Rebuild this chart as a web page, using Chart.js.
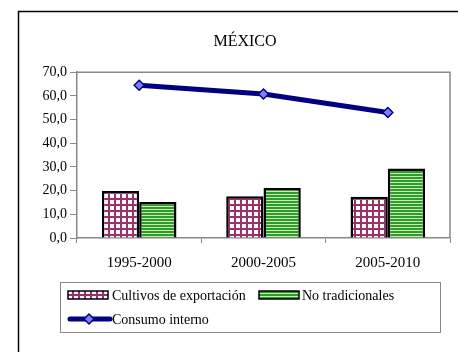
<!DOCTYPE html>
<html>
<head>
<meta charset="utf-8">
<script src="https://cdn.jsdelivr.net/npm/chart.js@4/dist/chart.umd.min.js"></script>
<style>
html,body{margin:0;padding:0;background:#fff;}
#wrap{width:458px;height:352px;}
</style>
</head>
<body>
<div id="wrap"><canvas id="c" width="458" height="352"></canvas></div>
<script>
const title = 'MÉXICO';
const categories = ['1995-2000', '2000-2005', '2005-2010'];
const seriesNames = ['Cultivos de exportación', 'No tradicionales', 'Consumo interno'];
const cultivos = [19.8, 17.6, 17.4];
const noTradicionales = [15.2, 21.1, 29.3];
const consumoInterno = [64.5, 60.8, 53.0];
const yTicks = [0, 10, 20, 30, 40, 50, 60, 70];

const FONT = "'Liberation Serif', 'Times New Roman', serif";

function makePattern(w, h, drawFn) {
  const c = document.createElement('canvas');
  c.width = w; c.height = h;
  const x = c.getContext('2d');
  drawFn(x);
  return x.createPattern(c, 'repeat');
}
const pinkPattern = makePattern(6, 6, x => {
  x.fillStyle = '#fff8fc'; x.fillRect(0, 0, 6, 6);
  x.fillStyle = '#993366';
  x.fillRect(0, 0, 6, 2);
  x.fillRect(0, 0, 2, 6);
});
const greenPattern = makePattern(3, 3, x => {
  x.fillStyle = '#2f9a2f'; x.fillRect(0, 0, 3, 3);
  x.fillStyle = '#c4f0a8'; x.fillRect(0, 2, 3, 1);
});

const framePlugin = {
  id: 'frame',
  beforeDraw(chart) {
    const c = chart.ctx;
    c.save();
    c.fillStyle = '#fff';
    c.fillRect(0, 0, chart.width, chart.height);
    c.strokeStyle = '#000';
    c.lineWidth = 1.5;
    c.strokeRect(18.5, 11.5, 480, 380);
    c.restore();
  },
  beforeDatasetsDraw(chart) {
    const a = chart.chartArea;
    const c = chart.ctx;
    c.save();
    c.strokeStyle = '#888';
    c.lineWidth = 1.5;
    c.beginPath();
    c.moveTo(a.left, a.top);
    c.lineTo(a.right, a.top);
    c.lineTo(a.right, a.bottom);
    c.stroke();
    c.restore();
  },
  afterDraw(chart) {
    const c = chart.ctx;
    c.save();
    c.strokeStyle = '#888';
    c.lineWidth = 1;
    c.strokeRect(60.5, 282.5, 380, 50);
    c.font = '14px ' + FONT;
    c.fillStyle = '#000';
    c.textBaseline = 'middle';
    c.fillStyle = pinkPattern;
    c.fillRect(68, 291, 40, 8);
    c.strokeStyle = '#000'; c.lineWidth = 1.5;
    c.strokeRect(68, 291, 40, 8);
    c.fillStyle = '#000';
    c.fillText(seriesNames[0], 112, 296);
    c.fillStyle = greenPattern;
    c.fillRect(259, 291, 40, 8);
    c.strokeRect(259, 291, 40, 8);
    c.fillStyle = '#000';
    c.fillText(seriesNames[1], 302, 296);
    c.strokeStyle = '#000080';
    c.lineWidth = 5;
    c.lineCap = 'round';
    c.beginPath(); c.moveTo(70, 319); c.lineTo(110, 319); c.stroke();
    c.fillStyle = '#8080ff';
    c.strokeStyle = '#000080';
    c.lineWidth = 1.5;
    c.beginPath();
    c.moveTo(89, 314); c.lineTo(94, 319); c.lineTo(89, 324); c.lineTo(84, 319); c.closePath();
    c.fill(); c.stroke();
    c.fillStyle = '#000';
    c.fillText(seriesNames[2], 112, 320);
    c.restore();
  }
};

new Chart(document.getElementById('c'), {
  data: {
    labels: categories,
    datasets: [
      {
        type: 'line', label: seriesNames[2], data: consumoInterno, order: 0,
        borderColor: '#000080', borderWidth: 5, tension: 0,
        pointStyle: 'rectRot', pointRadius: 5, pointBackgroundColor: '#8080ff',
        pointBorderColor: '#000080', pointBorderWidth: 1.5
      },
      {
        type: 'bar', label: seriesNames[0], data: cultivos, order: 1,
        backgroundColor: pinkPattern, borderColor: '#000', borderWidth: 2.5,
        categoryPercentage: 0.6, barPercentage: 1.0
      },
      {
        type: 'bar', label: seriesNames[1], data: noTradicionales, order: 1,
        backgroundColor: greenPattern, borderColor: '#000', borderWidth: 2.5,
        categoryPercentage: 0.6, barPercentage: 1.0
      }
    ]
  },
  options: {
    responsive: false,
    animation: false,
    layout: { padding: { left: 40, right: 8, top: 0, bottom: 80 } },
    plugins: {
      legend: { display: false },
      tooltip: { enabled: false },
      title: {
        display: true, text: title, color: '#000',
        font: { family: FONT, size: 16, weight: 'normal' },
        padding: { top: 32, bottom: 21 }
      }
    },
    scales: {
      x: {
        offset: true,
        grid: { offset: true, drawOnChartArea: false, drawTicks: true, tickLength: 5, color: '#888' },
        border: { color: '#888', width: 1.5 },
        ticks: { color: '#000', font: { family: FONT, size: 15 }, padding: 11 },
        afterFit(s) { s.height = 34; }
      },
      y: {
        min: 0, max: 70,
        afterBuildTicks(s) { s.ticks = yTicks.map(v => ({ value: v })); },
        grid: { drawOnChartArea: false, drawTicks: true, tickLength: 7, color: '#888' },
        border: { color: '#888', width: 1.5 },
        ticks: {
          color: '#000', font: { family: FONT, size: 14 }, padding: 3,
          callback: v => Number(v).toFixed(1).replace('.', ',')
        },
        afterFit(s) { s.width = 37; }
      }
    }
  },
  plugins: [framePlugin]
});
</script>
</body>
</html>
